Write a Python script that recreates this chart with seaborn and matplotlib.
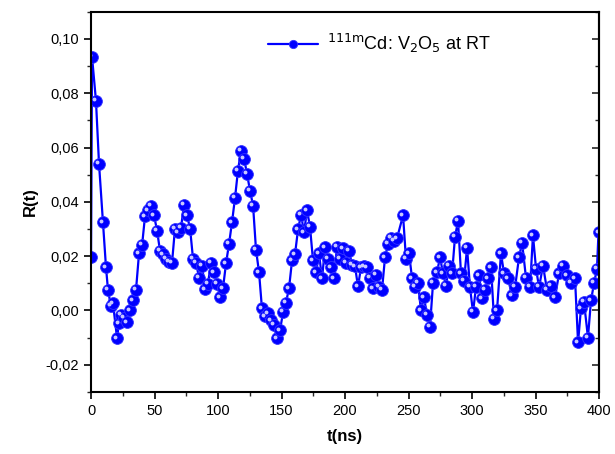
import numpy as np
import pandas as pd
import matplotlib
matplotlib.use('Agg')
import matplotlib.pyplot as plt
import matplotlib.transforms as mtransforms
from matplotlib.ticker import MultipleLocator, FuncFormatter, NullFormatter
import seaborn as sns

# R(t) spectrum for 111mCd in V2O5 at room temperature
t_ns = [0.0, 0.8, 3.9, 6.3, 9.4, 11.8, 13.4, 15.7, 17.3, 20.5, 22.0, 23.6, 26.0, 28.3,
        30.7, 33.1, 35.4, 37.8, 40.2, 42.5, 44.9, 47.2, 49.6, 52.0, 54.3, 56.7, 59.1,
        61.4, 63.8, 66.1, 68.5, 70.9, 73.2, 75.6, 78.0, 80.3, 82.7, 85.0, 87.4, 89.8,
        92.1, 94.5, 96.9, 99.2, 101.6, 103.9, 106.3, 108.7, 111.0, 113.4, 115.7, 118.1,
        120.5, 122.8, 125.2, 127.6, 129.9, 132.3, 134.6, 137.0, 139.4, 141.7, 144.1,
        146.5, 148.8, 151.2, 153.5, 155.9, 158.3, 160.6, 163.0, 165.4, 167.7, 170.1,
        172.4, 174.8, 177.2, 179.5, 181.9, 184.3, 186.6, 189.0, 191.3, 193.7, 196.1,
        198.4, 200.8, 203.1, 205.5, 207.9, 210.2, 212.6, 215.0, 217.3, 219.7, 222.0,
        224.4, 226.8, 229.1, 231.5, 233.9, 236.2, 238.6, 240.9,
        245.7, 248.0, 250.4, 252.8, 255.1, 257.5, 259.8, 262.2, 264.6, 266.9, 269.3,
        272.4, 274.8, 277.2, 279.5, 281.9, 284.3, 286.6, 289.0, 291.3, 293.7, 296.1,
        298.4, 300.8, 303.1, 305.5, 307.9, 310.2, 312.6, 315.0,
        317.3, 319.7, 322.8, 325.2, 328.3, 331.5, 333.9, 337.0, 339.4, 342.5, 345.7,
        348.0, 350.4, 352.8, 355.9, 359.1, 362.2, 365.4, 368.5, 371.7, 374.8, 378.0,
        381.1, 383.5, 385.8, 388.2, 391.3, 393.7, 396.1, 398.4, 399.6]

r_t = [0.0195, 0.0934, 0.0772, 0.054, 0.0324, 0.0158, 0.0074, 0.0015, 0.0026, -0.0103,
       -0.0048, -0.0018, -0.0029, -0.0044, 0.0, 0.0037, 0.0074, 0.021, 0.024, 0.0346,
       0.0368, 0.0386, 0.035, 0.0294, 0.022, 0.0206, 0.0191, 0.018, 0.0176, 0.0301,
       0.0287, 0.0305, 0.039, 0.035, 0.0301, 0.0191, 0.0176, 0.0121, 0.0165, 0.0077,
       0.0099, 0.0176, 0.014, 0.0099, 0.0048, 0.0081, 0.0173, 0.0246, 0.0324, 0.0415,
       0.0515, 0.0588, 0.0559, 0.0504, 0.0441, 0.0386, 0.0224, 0.014, 0.0007, -0.0022,
       -0.0011, -0.0037, -0.0055, -0.0103, -0.0074, -0.0007, 0.0029, 0.0081, 0.0184,
       0.0206, 0.0298, 0.0353, 0.0287, 0.0368, 0.0309, 0.0184, 0.014, 0.021, 0.0118,
       0.0232, 0.0191, 0.0158, 0.0118, 0.0235, 0.0191, 0.0228, 0.0176, 0.022, 0.0169,
       0.0162, 0.0088, 0.0158, 0.0162, 0.0158, 0.0121, 0.0081, 0.0132, 0.0085, 0.0074,
       0.0195, 0.0246, 0.0268, 0.0257, 0.0265,
       0.035, 0.019, 0.021, 0.0118, 0.0085, 0.010, 0.000, 0.0048, -0.0018, -0.006,
       0.010, 0.014, 0.0195, 0.0136, 0.009, 0.0165, 0.0136, 0.027, 0.033, 0.0136,
       0.011, 0.023, 0.0085, -0.0007, 0.0085, 0.0129, 0.0044, 0.0074, 0.0118, 0.0158,
       -0.003, 0.000, 0.021, 0.0136, 0.0118, 0.0055, 0.0085, 0.0195, 0.025, 0.012,
       0.0085, 0.0276, 0.0154, 0.0085, 0.0165, 0.0074, 0.009, 0.0048, 0.0136, 0.0165,
       0.0129, 0.010, 0.0118, -0.0118, 0.0007, 0.003, -0.010, 0.0037, 0.010, 0.0154,
       0.0287]

x_ticks = [0, 50, 100, 150, 200, 250, 300, 350, 400]
y_ticks = [-0.02, 0.00, 0.02, 0.04, 0.06, 0.08, 0.10]

df = pd.DataFrame({'t': t_ns, 'R': r_t})

sns.set_style('ticks')
plt.rcParams['font.family'] = ['Liberation Sans', 'DejaVu Sans']
plt.rcParams['text.color'] = 'black'
plt.rcParams['axes.labelcolor'] = 'black'

fig, ax = plt.subplots(figsize=(6.15, 4.54), dpi=100)
fig.subplots_adjust(left=0.148, right=0.974, top=0.974, bottom=0.137)

sns.lineplot(data=df, x='t', y='R', sort=False, estimator=None, ax=ax,
             color='#0000ff', linewidth=1.6, marker='o', markersize=8.5,
             markeredgecolor='#3333ff', markeredgewidth=0.6,
             label=r'$^{\mathrm{111m}}$Cd: V$_\mathrm{2}$O$_\mathrm{5}$ at RT')

# small highlight on each ball
shift = mtransforms.ScaledTranslation(-1.3 / 72, 1.3 / 72, fig.dpi_scale_trans)
ax.plot(df['t'], df['R'], 'o', ms=2.8, color='#c8c8ff', mec='none',
        transform=ax.transData + shift, label='_nolegend_')

ax.set_xlim(0, 400)
ax.set_ylim(-0.03, 0.11)
ax.set_xticks(x_ticks)
ax.set_yticks(y_ticks)
ax.xaxis.set_minor_locator(MultipleLocator(25))
ax.yaxis.set_minor_locator(MultipleLocator(0.01))
ax.yaxis.set_major_formatter(FuncFormatter(lambda v, p: f'{v:.2f}'.replace('.', ',').replace('-0,00', '0,00')))

ax.tick_params(axis='both', which='major', direction='out', length=5, width=1.2,
               labelsize=10.5, colors='black')
ax.tick_params(axis='both', which='minor', direction='out', length=3, width=1.0)
ax.tick_params(which='both', right=False, top=False)

# right axis: mirrored ticks pointing inward, no labels
rax = ax.secondary_yaxis('right')
rax.set_yticks(y_ticks)
rax.yaxis.set_minor_locator(MultipleLocator(0.01))
rax.yaxis.set_major_formatter(NullFormatter())
rax.tick_params(which='major', direction='in', length=5, width=1.2)
rax.tick_params(which='minor', direction='in', length=3, width=1.0)
rax.spines['right'].set_linewidth(1.5)

for s in ax.spines.values():
    s.set_visible(True)
    s.set_linewidth(1.5)
    s.set_color('black')

ax.set_xlabel('t(ns)', fontsize=12, fontweight='bold', labelpad=8)
ax.set_ylabel('R(t)', fontsize=12, fontweight='bold', labelpad=6)

leg = ax.legend(loc='upper right', bbox_to_anchor=(0.82, 0.99), frameon=False,
                fontsize=13, handlelength=2.8, handletextpad=0.5, markerscale=0.7)

plt.savefig('out.png', dpi=100)
